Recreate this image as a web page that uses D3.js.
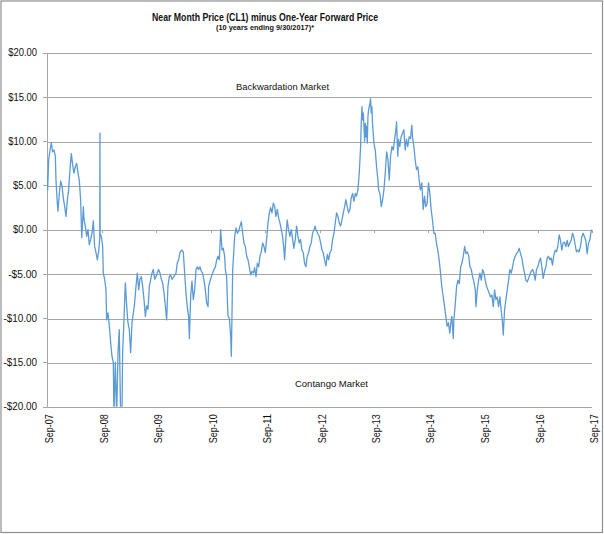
<!DOCTYPE html>
<html>
<head>
<meta charset="utf-8">
<script src="https://cdn.jsdelivr.net/npm/d3@7"></script>
<style>
  html, body { margin: 0; padding: 0; background: #fff; }
  svg { display: block; font-family: "Liberation Sans", Arial, sans-serif; }
  .grid line { stroke: #a6a6a6; stroke-width: 1; shape-rendering: crispEdges; }
  .axis path, .axis line { stroke: #a6a6a6; shape-rendering: crispEdges; }
  .axis text { fill: #111; font-size: 10px; }
  .line { fill: none; stroke: #5b9bd5; stroke-width: 1.3; stroke-linejoin: round; }
  .title { font-weight: bold; fill: #111; }
  .note { font-size: 9px; fill: #111; }
</style>
</head>
<body>
<svg id="chart" width="604" height="534"></svg>
<script>
// weeks after 28 Sep 2007
const weeks = [
  0, 0.6, 1.6, 2.9, 4.1, 5.4, 6.7, 8.0, 8.6, 9.9,
  10.5, 11.8, 13.1, 14.4, 15.6, 16.9, 18.2, 19.5, 20.7, 22.0,
  23.3, 24.6, 25.8, 27.1, 28.4, 29.7, 30.9, 32.2, 33.3, 34.8,
  35.5, 36.7, 38.0, 39.3, 40.5, 41.8, 43.1, 44.4, 45.6, 46.9,
  48.2, 49.5, 50.5, 50.7, 50.9, 52.0, 53.3, 53.9, 55.2, 56.5,
  57.1, 58.4, 59.7, 61.0, 62.2, 63.5, 64.1, 65.4, 66.7, 68.0,
  69.2, 70.5, 71.8, 72.4, 73.7, 75.0, 76.3, 77.5, 78.8, 80.1,
  81.4, 82.7, 83.9, 85.2, 86.5, 87.8, 89.0, 90.3, 91.6, 92.9,
  94.2, 95.4, 96.7, 98.0, 99.3, 100.5, 101.8, 103.1, 104.4, 105.6,
  106.9, 108.2, 109.5, 110.7, 112.0, 113.3, 114.6, 115.8, 117.1, 118.4,
  119.7, 121.5, 123.5, 124.7, 126.0, 127.3, 128.9, 130.5, 131.8, 133.1,
  134.3, 135.6, 136.3, 137.6, 138.8, 140.1, 141.4, 142.7, 143.9, 145.2,
  146.5, 147.8, 149.0, 150.3, 151.6, 152.9, 154.2, 154.8, 156.1, 157.4,
  158.6, 159.9, 161.2, 162.5, 163.7, 165.0, 166.3, 167.6, 168.8, 170.1,
  170.8, 172.0, 173.3, 174.6, 175.9, 176.5, 177.1, 177.8, 178.4, 179.7,
  181.0, 182.3, 183.5, 184.8, 186.1, 187.4, 188.6, 189.9, 191.2, 192.5,
  193.7, 195.0, 196.3, 197.6, 198.8, 200.1, 201.4, 202.7, 203.9, 205.2,
  206.5, 207.8, 209.0, 210.3, 211.6, 212.9, 214.1, 215.4, 216.7, 218.0,
  219.2, 220.5, 221.8, 223.1, 224.3, 225.6, 226.9, 227.5, 228.8, 230.0,
  231.3, 232.6, 233.9, 235.2, 236.4, 237.7, 239.0, 240.3, 241.5, 242.8,
  244.1, 245.4, 246.6, 247.9, 249.2, 250.5, 251.7, 253.0, 254.3, 255.6,
  256.8, 257.5, 259.1, 260.7, 262.0, 263.3, 264.5, 265.8, 267.1, 268.4,
  269.7, 270.9, 272.2, 273.5, 274.8, 276.0, 277.3, 278.6, 279.9, 281.1,
  282.4, 283.7, 285.0, 286.2, 287.5, 288.8, 290.1, 291.3, 292.6, 293.9,
  295.2, 296.4, 297.7, 299.0, 300.3, 300.9, 301.6, 302.2, 302.9, 303.5,
  304.1, 304.8, 305.4, 306.0, 306.7, 307.3, 307.9, 309.2, 309.8, 310.5,
  311.1, 311.7, 313.0, 314.3, 315.6, 316.9, 317.5, 318.8, 320.1, 321.4,
  322.6, 323.9, 325.2, 326.5, 327.7, 329.0, 330.3, 331.6, 332.8, 334.1,
  334.7, 335.9, 336.6, 337.9, 339.1, 340.4, 341.7, 343.0, 344.2, 345.5,
  346.8, 348.1, 349.3, 350.0, 351.3, 352.5, 353.8, 355.1, 356.4, 357.6,
  358.9, 360.2, 361.5, 362.7, 364.0, 365.3, 366.6, 367.8, 369.1, 370.4,
  371.7, 372.9, 374.2, 375.5, 376.8, 378.0, 379.3, 380.6, 381.9, 383.1,
  384.4, 385.7, 387.0, 387.7, 389.0, 389.6, 391.0, 392.2, 393.5, 394.8,
  396.1, 397.3, 398.6, 399.9, 401.2, 402.4, 403.7, 405.0, 406.3, 407.5,
  408.8, 410.1, 410.7, 412.0, 413.3, 414.5, 415.8, 417.1, 418.4, 419.6,
  420.9, 422.2, 423.5, 424.7, 426.0, 427.3, 428.6, 429.8, 431.1, 432.4,
  433.7, 434.9, 436.2, 436.9, 438.1, 439.4, 440.7, 442.0, 443.2, 444.5,
  445.8, 447.1, 448.3, 449.6, 450.9, 452.2, 453.4, 454.7, 456.0, 457.3,
  458.5, 459.8, 461.1, 462.4, 463.6, 464.9, 466.2, 467.5, 468.7, 470.0,
  471.3, 472.6, 473.8, 475.1, 476.4, 477.7, 478.9, 480.2, 481.5, 482.8,
  484.0, 485.3, 486.6, 487.9, 489.1, 490.4, 491.7, 493.0, 494.2, 495.5,
  496.8, 498.1, 499.3, 500.6, 501.9, 503.2, 504.4, 505.7, 507.0, 508.3,
  509.5, 510.8, 512.1, 513.4, 514.6, 515.9, 517.2, 518.5, 519.7, 521.0,
  521.6
];
// near month minus one-year forward, $/bbl
const spread = [
  6.2, 4.5, 7.9, 9.0, 9.8, 8.8, 9.0, 8.3, 5.6, 3.0,
  2.1, 4.1, 5.5, 4.9, 3.6, 2.6, 1.5, 3.4, 4.5, 6.8,
  8.6, 7.3, 6.4, 7.1, 7.5, 6.4, 5.6, 3.4, -0.9, 2.6,
  1.1, 0.4, -0.75, 0, -1.7, -1.1, -0.4, 1.0, -1.9, -2.6,
  -3.4, -2.4, -1.0, 10.9, -0.5, -0.75, -1.9, -4.9, -5.6, -6.8,
  -10.2, -9.4, -10.9, -12.8, -14.3, -15, -21, -15, -21, -13.9,
  -11.3, -21, -21, -13.9, -10.2, -6.0, -8.6, -10.5, -11.3, -13.9,
  -10.5, -9.4, -8.3, -6.4, -4.9, -6.8, -5.6, -5.3, -6.4, -7.9,
  -9.8, -8.6, -9.0, -6.4, -5.6, -4.9, -4.5, -5.6, -5.3, -4.9,
  -4.5, -4.9, -5.6, -6.0, -7.1, -8.6, -10.2, -6.4, -5.3, -5.1,
  -5.6, -5.3, -4.9, -3.8, -3.4, -2.6, -2.3, -2.5, -4.9, -7.2,
  -8.7, -9.8, -12.3, -7.5, -5.8, -7.9, -6.8, -4.5, -4.2, -4.5,
  -4.2, -4.7, -4.9, -5.7, -6.8, -8.3, -8.7, -6.4, -5.8, -5.3,
  -4.9, -4.5, -4.2, -3.4, -3.0, -3.4, 0.0, -2.3, -2.1, -3.0,
  -4.5, -5.3, -9.8, -10.0, -12.1, -14.3, -9.8, -4.5, -3.4, -0.75,
  0.2, -0.4, -0.2, 0.4, 0.9, -0.4, -1.5, -1.9, -3.0, -3.4,
  -4.2, -5.1, -4.7, -4.9, -4.3, -5.3, -3.8, -4.2, -3.0, -2.5,
  -1.5, -1.9, -2.6, -1.1, 0.75, 1.9, 2.5, 1.9, 3.0, 2.6,
  1.5, 2.3, 1.3, 0.75, 0.0, -0.75, -2.3, -3.4, -0.75, 1.1,
  0.0, -0.75, 0.0, -1.1, -2.1, -1.1, 0.4, -0.75, -1.5, -1.1,
  -2.3, -2.6, -3.8, -4.2, -3.0, -2.6, -1.9, -1.5, -0.4, 0.0,
  0.4, 0.0, -0.4, -0.75, -1.5, -2.3, -2.6, -3.4, -4.1, -2.8,
  -3.4, -2.6, -2.3, -1.1, -0.4, 0.75, 1.9, 1.5, 0.75, 0.4,
  1.1, 1.9, 2.6, 3.4, 2.6, 1.9, 2.3, 3.6, 4.1, 3.2,
  4.1, 3.8, 4.5, 6.4, 9.4, 12.0, 13.9, 12.4, 13.2, 11.7,
  10.0, 12.0, 10.5, 11.7, 9.8, 12.8, 13.5, 14.3, 14.8, 13.2,
  13.9, 12.0, 9.8, 9.0, 7.1, 5.6, 4.5, 4.1, 2.6, 3.4,
  4.5, 6.4, 8.8, 7.9, 5.6, 8.3, 9.4, 9.0, 10.2, 11.3,
  12.2, 8.3, 10.2, 9.4, 10.5, 10.9, 11.3, 9.0, 10.2, 9.4,
  10.5, 10.3, 11.8, 10.5, 9.4, 7.9, 6.8, 7.1, 5.6, 4.5,
  5.3, 2.3, 3.8, 2.6, 3.0, 5.3, 4.1, 2.3, 1.1, -0.4,
  -0.4, -1.5, -2.3, -3.4, -4.9, -6.4, -7.5, -8.6, -9.8, -10.9,
  -10.5, -11.7, -10.2, -9.8, -12.3, -10.2, -8.3, -6.4, -5.7, -6.1,
  -4.2, -3.8, -3.0, -1.9, -2.7, -2.5, -2.9, -4.2, -4.5, -5.3,
  -5.9, -6.8, -8.7, -6.8, -5.7, -4.9, -5.7, -4.5, -4.9, -5.7,
  -6.4, -6.8, -7.2, -7.6, -7.4, -8.7, -6.8, -7.9, -7.6, -8.7,
  -7.6, -9.1, -10.6, -11.9, -9.1, -7.9, -6.8, -5.7, -4.5, -4.9,
  -4.2, -3.4, -3.0, -2.7, -2.5, -2.1, -2.7, -3.2, -4.2, -4.9,
  -5.7, -5.9, -5.5, -5.1, -4.7, -4.5, -4.9, -5.7, -4.5, -4.2,
  -3.6, -3.2, -4.2, -5.5, -4.7, -4.2, -3.2, -3.0, -3.4, -3.2,
  -4.0, -2.9, -2.3, -2.5, -1.9, -0.6, -1.2, -2.3, -1.5, -1.4,
  -1.9, -1.2, -1.9, -1.5, -1.2, -0.4, -0.8, -1.7, -2.5, -2.3,
  -2.5, -1.9, -0.8, -0.4, -0.8, -1.2, -2.7, -1.5, -1.2, -0.2,
  0.0
];
const yTicks = [20, 15, 10, 5, 0, -5, -10, -15, -20];
const tickYears = [2007, 2008, 2009, 2010, 2011, 2012, 2013, 2014, 2015, 2016, 2017];
const titleLines = ['Near Month Price (CL1) minus One-Year Forward Price', '(10 years ending  9/30/2017)*'];
// annotations anchored to a date and a price level
const notes = [
  {text: 'Backwardation Market', date: new Date(2011, 2, 18), value: 15.8},
  {text: 'Contango Market', date: new Date(2012, 3, 16), value: -17.8}
];

const margin = {top: 52.7, right: 12, bottom: 127.3, left: 47};
const svg = d3.select('#chart');
const W = +svg.attr('width'), H = +svg.attr('height');
const width = W - margin.left - margin.right;
const height = H - margin.top - margin.bottom;

// outer chart frame
svg.append('rect')
    .attr('x', 1).attr('y', 1).attr('width', W - 2.5).attr('height', H - 2.5)
    .attr('fill', '#fff').attr('stroke', '#8f8f8f').attr('stroke-width', 1.2);

const start = new Date(2007, 8, 28);
const dayMs = 864e5;
const data = weeks.map((w, i) => ({date: new Date(+start + w * 7 * dayMs), v: spread[i]}));
const tickDates = tickYears.map(y => new Date(y, 8, 28));

const x = d3.scaleTime().domain([tickDates[0], tickDates[tickDates.length - 1]]).range([0, width]);
const y = d3.scaleLinear().domain([-20, 20]).range([height, 0]);

const g = svg.append('g').attr('transform', 'translate(' + margin.left + ',' + margin.top + ')');

g.append('g').attr('class', 'grid')
    .selectAll('line').data(yTicks).join('line')
        .attr('x1', 0).attr('x2', width)
        .attr('y1', d => Math.round(y(d)) + 0.5).attr('y2', d => Math.round(y(d)) + 0.5);

const fmt = d => (d < 0 ? '-$' : '$') + Math.abs(d).toFixed(2);
g.append('g').attr('class', 'y axis')
    .call(d3.axisLeft(y).tickValues(yTicks).tickSize(4).tickSizeOuter(0).tickPadding(6).tickFormat(fmt))
    .selectAll('text').attr('textLength', function() { return this.textContent.length * 4.8; })
        .attr('lengthAdjust', 'spacingAndGlyphs');

// category axis crosses at $0
g.append('g').attr('class', 'x axis')
    .attr('transform', 'translate(0,' + y(0) + ')')
    .call(d3.axisBottom(x).tickValues(tickDates).tickSize(3).tickSizeOuter(0).tickFormat(''))
    .select('.domain').remove();

g.append('g').attr('class', 'x axis labels')
    .selectAll('text').data(tickDates).join('text')
        .attr('transform', d => 'translate(' + (x(d) + 2.5) + ',' + (height + 7.5) + ') rotate(-90)')
        .attr('text-anchor', 'end').attr('dy', '0.35em')
        .attr('textLength', 29).attr('lengthAdjust', 'spacingAndGlyphs')
        .text(d3.timeFormat('%b-%y'));

g.append('clipPath').attr('id', 'plot-clip')
    .append('rect').attr('x', 0).attr('y', 0).attr('width', width).attr('height', height);

const line = d3.line().x(d => x(d.date)).y(d => y(d.v));
g.append('path').datum(data)
    .attr('class', 'line')
    .attr('clip-path', 'url(#plot-clip)')
    .attr('d', line);

g.selectAll('.note').data(notes).join('text')
    .attr('class', 'note')
    .attr('x', d => x(d.date))
    .attr('y', d => y(d.value))
    .attr('textLength', (d, i) => i ? 73 : 93).attr('lengthAdjust', 'spacingAndGlyphs')
    .text(d => d.text);

svg.append('text').attr('class', 'title')
    .attr('x', 265).attr('y', 20.5).attr('text-anchor', 'middle')
    .style('font-size', '11px')
    .attr('textLength', 226).attr('lengthAdjust', 'spacingAndGlyphs')
    .text(titleLines[0]);
svg.append('text').attr('class', 'title')
    .attr('x', 265).attr('y', 29.8).attr('text-anchor', 'middle')
    .style('font-size', '8px')
    .attr('textLength', 98).attr('lengthAdjust', 'spacingAndGlyphs')
    .text(titleLines[1]);
</script>
</body>
</html>
